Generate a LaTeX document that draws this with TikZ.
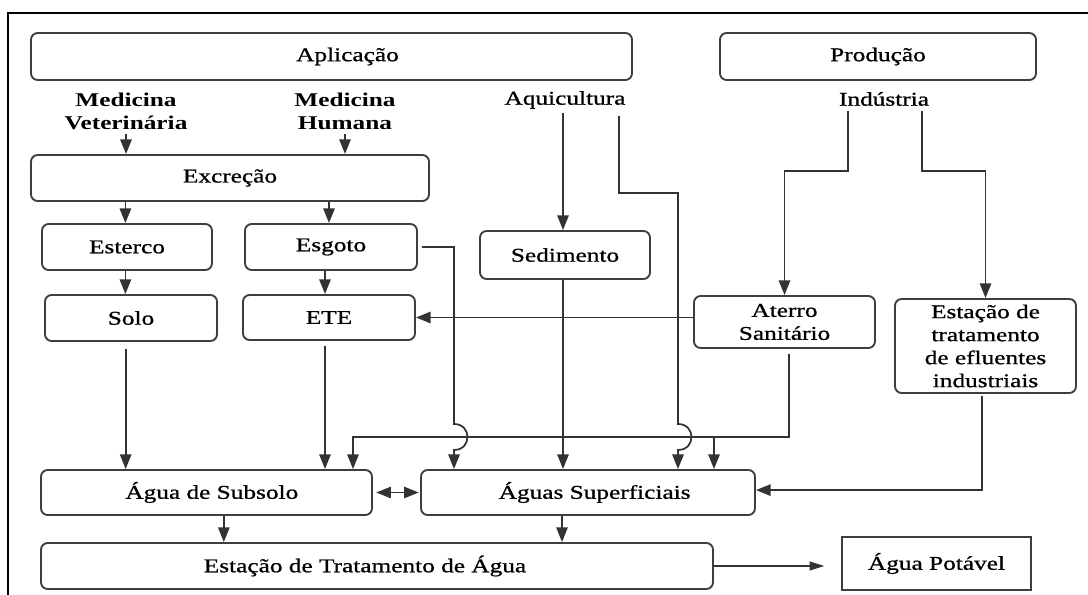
\documentclass[tikz,border=0pt]{standalone}
\usepackage{fontspec}
\setmainfont{Liberation Serif}[FakeStretch=1.3, UprightFeatures={FakeBold=0.9}]
\usetikzlibrary{arrows.meta,calc}
\definecolor{boxc}{HTML}{3E3E3E}
\definecolor{linec}{HTML}{333333}
\begin{document}
\begin{tikzpicture}[x=0.75pt,y=-0.75pt,
  font=\fontsize{14.6pt}{17.25pt}\selectfont,
  box/.style={draw=boxc, line width=1.4pt, rounded corners=5pt, inner sep=0pt, align=center},
  bx/.style 2 args={minimum width=#1*0.75pt, minimum height=#2*0.75pt},
  lbl/.style={inner sep=3pt, align=center},
  ln/.style={draw=linec, line width=1.3pt},
  tip/.style={-{Triangle[length=11pt,width=8.5pt]}},
  arr/.style={ln, tip},
  darr/.style={ln, {Triangle[length=11pt,width=8.5pt]}-{Triangle[length=11pt,width=8.5pt]}}]
\useasboundingbox (0,0) rectangle (1088,595);
% frame
\draw[line width=1.6pt] (8,595) -- (8,13) -- (1088,13);

% boxes
\node[box, bx={601}{47}] (apl) at (331.5,56.5) {\hspace*{24pt}Aplicação};
\node[box, bx={316}{47}] (prod) at (878,56.5) {Produção};
\node[lbl, font=\fontsize{14.6pt}{17.25pt}\selectfont\bfseries] (medvet) at (126,111) {Medicina\\Veterinária};
\node[lbl, font=\fontsize{14.6pt}{17.25pt}\selectfont\bfseries] (medhum) at (345,111) {Medicina\\Humana};
\node[lbl] (aqui) at (565,100) {Aquicultura};
\node[lbl] (ind) at (884,99) {Indústria};
\node[box, bx={398}{46}] (exc) at (230,178) {Excreção};
\node[box, bx={170}{46}] (est) at (127,247) {Esterco};
\node[box, bx={172}{46}] (esg) at (331,247) {Esgoto};
\node[box, bx={172}{46}] (solo) at (131,318) {Solo};
\node[box, bx={172}{45}] (ete) at (329,317.5) {ETE};
\node[box, bx={170}{48}] (sed) at (565,255) {Sedimento};
\node[box, bx={181}{52}] (ater) at (784.5,322) {Aterro\\Sanitário};
\node[box, bx={181}{94}] (etei) at (985.5,346) {Estação de\\tratamento\\de efluentes\\industriais};
\node[box, bx={331}{45}] (sub) at (206.5,492.5) {\hspace*{8pt}Água de Subsolo};
\node[box, bx={334}{45}] (sup) at (588,492.5) {\hspace*{10pt}Águas Superficiais};
\node[box, bx={672}{46}] (eta) at (377,566) {Estação de Tratamento de Água\hspace*{18pt}};
\node[box, sharp corners, bx={189}{53}] (pot) at (936.5,563.5) {Água Potável};

% named free ends and bends
\coordinate (aquiR) at (619,116);
\coordinate (indL) at (848,111);
\coordinate (indR) at (922,111);
\coordinate (hA) at (678,450);
\coordinate (hB) at (454,450);
\coordinate (busL) at (353,437);
\coordinate (busR) at (714,437);

% connectors
\draw[arr] (medvet.south) -- (medvet.south |- exc.north);
\draw[arr] (medhum.south) -- (medhum.south |- exc.north);
\draw[arr] ([xshift=-1.2pt]exc.south -| est.north) -- ([xshift=-1.2pt]est.north);
\draw[arr] ([xshift=-1.5pt]exc.south -| esg.north) -- ([xshift=-1.5pt]esg.north);
\draw[arr] ([xshift=-1.2pt]est.south) -- ([xshift=-1.2pt]est.south |- solo.north);
\draw[arr] ([xshift=-4.5pt]esg.south) -- ([xshift=-4.5pt]esg.south |- ete.north);
\draw[arr] ([shift={(-4pt,-5pt)}]solo.south) -- ([xshift=-4pt]solo.south |- sub.north);
\draw[arr] ([shift={(-3pt,-3.75pt)}]ete.south) -- ([xshift=-3pt]ete.south |- sub.north);
\draw[arr] ([xshift=-1.5pt]sed.north |- aqui.south) -- ([xshift=-1.5pt]sed.north);
\draw[arr] ([xshift=-1.5pt]sed.south) -- ([xshift=-1.5pt]sed.south |- sup.north);
\draw[arr] (aquiR) -- (619,193) -- (678,193) -- (678,424) .. controls (696,424) and (696,450) .. (hA) -- (hA |- sup.north);
\draw[arr] ([xshift=3pt]esg.east) -- (454,247) -- (454,424) .. controls (472,424) and (472,450) .. (hB) -- (hB |- sup.north);
\draw[arr] (indL) -- (848,171) -| (ater.north);
\draw[arr] (indR) -- (922,171) -| (etei.north);
\draw[arr] (ater.west |- ete.east) -- (ete.east);
\draw[arr] ([shift={(3.3pt,-3.75pt)}]ater.south) -- ([xshift=3.3pt]ater.south |- busL) -- (busL) -- (busL |- sub.north);
\draw[arr] (busR) -- (busR |- sup.north);
\draw[arr] ([shift={(-2.6pt,-1.5pt)}]etei.south) |- ([yshift=1.8pt]sup.east);
\draw[darr, shorten <=2.5pt, shorten >=1pt] (sub.east) -- (sup.west);
\draw[arr] ([xshift=13pt]sub.south) -- ([xshift=13pt]sub.south |- eta.north);
\draw[arr] ([xshift=-19.5pt]sup.south) -- ([xshift=-19.5pt]sup.south |- eta.north);
\draw[ln, -{Triangle[length=11pt,width=6.5pt]}, shorten >=12.5pt] (eta.east) -- (pot.west |- eta.east);
\end{tikzpicture}
\end{document}
